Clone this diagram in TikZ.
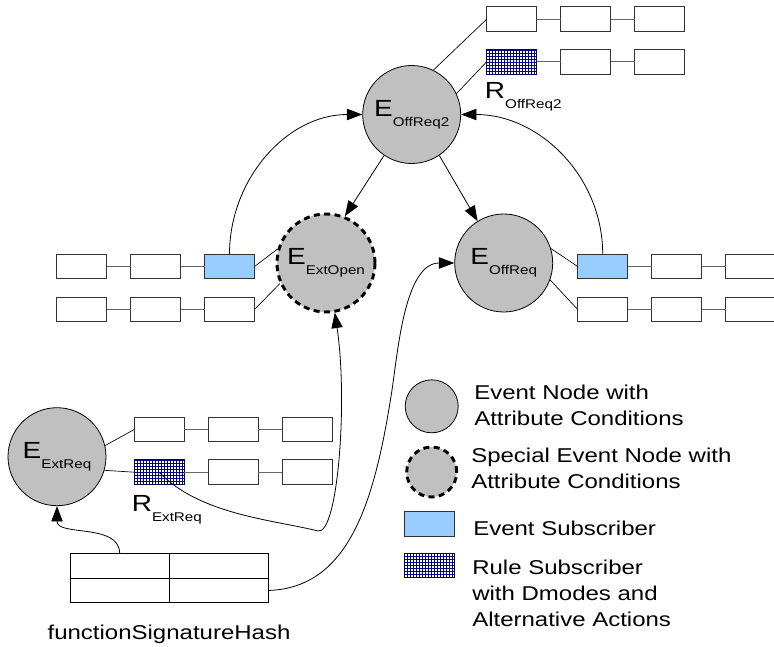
\documentclass[tikz,border=0pt]{standalone}
\usepackage{fontspec}
\setmainfont{Liberation Sans}[FakeStretch=1.2]
\usetikzlibrary{arrows.meta,positioning}
\definecolor{evgray}{HTML}{C0C0C0}
\definecolor{subblue}{HTML}{99CCFF}
\definecolor{rulenavy}{HTML}{000080}
\tikzset{
  >={Triangle[length=11.5pt,width=8.5pt]},
  ev/.style    ={circle, draw, line width=0.6pt, fill=evgray, minimum size=73.5pt, inner sep=0pt},
  spev/.style  ={ev, line width=2.2pt, dash pattern=on 4.5pt off 3.3pt},
  cellbase/.style={draw=black!80, line width=0.7pt, minimum width=37.5pt, minimum height=18.5pt, inner sep=0pt, outer sep=0pt},
  cell/.style  ={cellbase, fill=white},
  esub/.style  ={cellbase, fill=subblue},
  rsub/.style  ={cellbase, draw=rulenavy!70!black, fill=white,
    path picture={
      \foreach \k in {0,...,17}
        \draw[rulenavy, line width=0.8pt] ([xshift=\k*2.25pt]path picture bounding box.south west) -- ([xshift=\k*2.25pt]path picture bounding box.north west);
      \foreach \k in {0,...,9}
        \draw[rulenavy, line width=0.8pt] ([yshift=\k*2.25pt]path picture bounding box.south west) -- ([yshift=\k*2.25pt]path picture bounding box.south east);
    }},
  hcell/.style ={draw, line width=0.7pt, minimum width=74.25pt, minimum height=18.5pt, inner sep=0pt, outer sep=0pt},
  chn/.style   ={draw=black!60, line width=0.7pt},
  lnk/.style   ={draw, line width=0.5pt},
  arr/.style   ={->, line width=0.6pt},
  lgd/.style   ={align=left, anchor=west, inner sep=0pt},
}
\newcommand{\evname}[2]{{\fontsize{17.5pt}{17.5pt}\selectfont #1}\raisebox{-7.5pt}{\fontsize{9.5pt}{9.5pt}\selectfont #2}}

\begin{document}
\begin{tikzpicture}[x=0.75pt, y=-0.75pt, node distance=18pt, font=\fontsize{15pt}{19.5pt}\selectfont]
  \clip (0,0) rectangle (774,646);

  % event nodes
  \node[ev]   (eor2)  at (411.7,114.5) {\evname{E}{OffReq2}};
  \node[spev] (eopen) at (326,263)     {\evname{E}{ExtOpen}};
  \node[ev]   (eoff)  at (503.7,263)   {\evname{E}{OffReq}};
  \node[ev]   (eext)  at (57,456.7)    {\evname{E}{ExtReq}};

  % subscribers of E_OffReq2
  \node[cell] (t1a) at (511.7,19.2) {};
  \node[cell, right=of t1a] (t1b) {};
  \node[cell, right=of t1b] (t1c) {};
  \node[rsub] (t2a) at (511.7,61.7) {};
  \node[cell, right=of t2a] (t2b) {};
  \node[cell, right=of t2b] (t2c) {};
  \node[anchor=north west, inner sep=0pt] (r2lbl) at ([xshift=-1.5pt,yshift=-6pt]t2a.south west) {\evname{R}{OffReq2}};

  % subscribers of E_ExtOpen
  \node[cell] (la1) at (81.5,266.5) {};
  \node[cell, right=of la1] (la2) {};
  \node[esub, right=of la2] (la3) {};
  \node[cell] (lb1) at (81.5,309.5) {};
  \node[cell, right=of lb1] (lb2) {};
  \node[cell, right=of lb2] (lb3) {};

  % subscribers of E_OffReq
  \node[esub] (ra1) at (602.7,266.5) {};
  \node[cell, right=of ra1] (ra2) {};
  \node[cell, right=of ra2] (ra3) {};
  \node[cell] (rb1) at (602.7,309.5) {};
  \node[cell, right=of rb1] (rb2) {};
  \node[cell, right=of rb2] (rb3) {};

  % subscribers of E_ExtReq
  \node[cell] (xa1) at (159.2,429.5) {};
  \node[cell, right=of xa1] (xa2) {};
  \node[cell, right=of xa2] (xa3) {};
  \node[rsub] (xb1) at (159.2,472.2) {};
  \node[cell, right=of xb1] (xb2) {};
  \node[cell, right=of xb2] (xb3) {};
  \node[anchor=north west, inner sep=0pt] (rxlbl) at ([xshift=-2pt,yshift=-8pt]xb1.south west) {\evname{R}{ExtReq}};

  % hash table
  \node[hcell] (h11) at (119.7,565.8) {};
  \node[hcell, right=0pt of h11] (h12) {};
  \node[hcell, below=0pt of h11] (h21) {};
  \node[hcell, right=0pt of h21] (h22) {};
  \node[anchor=base] (hashname) at (169,639) {functionSignatureHash};

  % chains
  \foreach \a/\b in {t1a/t1b,t1b/t1c,t2a/t2b,t2b/t2c,la1/la2,la2/la3,lb1/lb2,lb2/lb3,
                     ra1/ra2,ra2/ra3,rb1/rb2,rb2/rb3,xa1/xa2,xa2/xa3,xb1/xb2,xb2/xb3}
    \draw[chn] (\a.east) -- (\b.west);

  \draw[lnk] (eor2.64) -- (t1a.west);
  \draw[lnk] (eor2.25) -- (t2a.west);
  \draw[lnk] (la3.east) -- (eopen.164);
  \draw[lnk] (lb3.east) -- (eopen.204);
  \draw[lnk] (eoff.17) -- (ra1.west);
  \draw[lnk] (eoff.340) -- (rb1.west);
  \draw[lnk] (eext.13) -- (xa1.west);
  \draw[lnk] (eext.344) -- (xb1.west);

  % triggers
  \draw[arr] (la3.north) to[out=90,in=180] (eor2.west);
  \draw[arr] (ra1.north) to[out=90,in=0] (eor2.east);
  \draw[arr] (eor2.236) -- (eopen.68);
  \draw[arr] (eor2.304) -- (eoff.122);
  \draw[arr] (h11.north) to[out=90,in=-90] (eext.south);
  \draw[arr] (xb1.center) .. controls (200,515) and (275,520) .. (318,531)
             .. controls (338,535) and (348,400) .. (eopen.280);
  \draw[arr] (h22.east) .. controls (350,588) and (375,500) .. (392,390)
             .. controls (398,350) and (405,263) .. (eoff.west);

  % legend
  \node[ev, minimum size=39.75pt] (lgev) at (431.7,406.3) {};
  \node[spev, minimum size=37.5pt] (lgsp) at (431.7,472) {};
  \node[esub] (lgsub) at (429.2,524.2) {};
  \node[rsub, minimum height=18pt] (lgrule) at (429.2,565.3) {};
  \node[lgd] (lgevtxt) at (474,405) {Event Node with\\Attribute Conditions};
  \node[lgd] (lgsptxt) at (471,468) {Special Event Node with\\Attribute Conditions};
  \node[lgd, anchor=base west] (lgsubtxt) at (473,535) {Event Subscriber};
  \node[lgd] (lgruletxt) at (472,593) {Rule Subscriber\\with Dmodes and\\Alternative Actions};
\end{tikzpicture}
\end{document}
